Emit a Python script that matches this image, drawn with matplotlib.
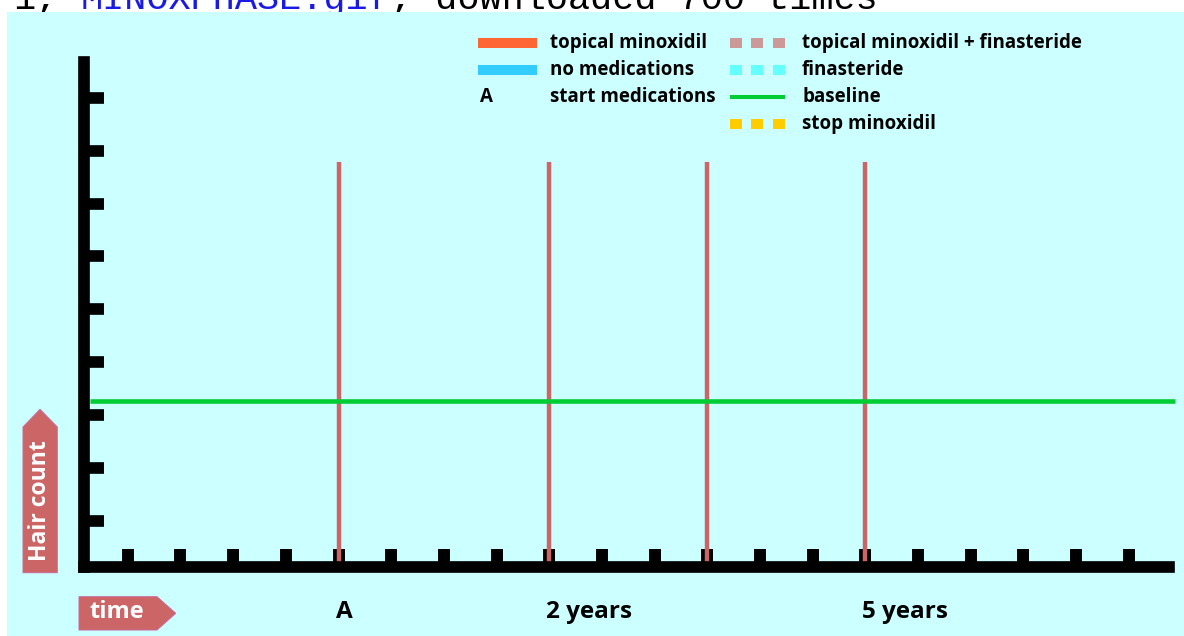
import matplotlib

matplotlib.use("Agg")
import matplotlib.pyplot as plt  # noqa: E402
from matplotlib.patches import Rectangle, Polygon  # noqa: E402
from matplotlib.transforms import Affine2D, Bbox, blended_transform_factory, offset_copy  # noqa: E402

W, H, DPI = 1184, 636, 100

BG = "#CCFFFF"
ARROW = "#CC6666"
EVENT_RED = "#CC6666"
GREEN = "#00CC33"
FONT = "Open Sans"

# chart data
tick_x = list(range(1, 21))
tick_y = list(range(1, 10))
event_x = [5, 9, 12, 15]
event_top = 7.78
baseline_y = 3.27
time_labels = ["A", "2 years", "5 years"]
time_label_x = [5, 9, 15]

# legend
legend_left = ["topical minoxidil", "no medications", "start medications"]
legend_left_kind = ["bar", "bar", "A"]
legend_left_color = ["#FF6633", "#33CCFF", "black"]
legend_right = ["topical minoxidil + finasteride", "finasteride", "baseline", "stop minoxidil"]
legend_right_kind = ["squares", "squares", "line", "squares"]
legend_right_color = ["#CC9999", "#66FFFF", GREEN, "#FFCC00"]
legend_rows = [43, 70, 97, 123.5]

caption = ["1, ", "MINOXPHASE.gif", ", downloaded 700 times"]
caption_color = ["black", "#1A1AE6", "black"]


def to_x(p):
    return (p - 75.1) / 52.68


def to_y(p):
    return (573.7 - p) / 52.875


fig = plt.figure(figsize=(W / DPI, H / DPI), dpi=DPI)
fig.patch.set_facecolor("white")
pix = Affine2D().scale(1 / W, -1 / H).translate(0, 1) + fig.transFigure

fig.add_artist(Rectangle((7.3, 11.7), W, H, transform=pix, facecolor=BG,
                         edgecolor="none", zorder=-1))

# cropped caption line at the very top
clip = Bbox.from_extents(0, H - 11.7, W, H)
cx = 14
for txt, col in zip(caption, caption_color):
    t = fig.text(cx, 9.3, txt, transform=pix, color=col, family="Liberation Mono",
                 fontsize=26.6, va="baseline", ha="left")
    t.set_clip_box(clip)
    cx += len(txt) * 22.2

# main axes
ax = fig.add_axes([84 / W, 1 - 567 / H, (1169 - 84) / W, (567 - 62.5) / H])
ax.set_xlim(to_x(84), to_x(1169))
ax.set_ylim(to_y(567), to_y(62.5))
ax.patch.set_visible(False)
for side in ["top", "right"]:
    ax.spines[side].set_visible(False)
for side in ["left", "bottom"]:
    ax.spines[side].set_linewidth(8.4)
    ax.spines[side].set_capstyle("projecting")
    ax.spines[side].set_color("black")
ax.set_xticks(tick_x)
ax.set_yticks(tick_y)
ax.tick_params(axis="x", direction="in", length=13, width=8.6, color="black",
               labelbottom=False)
ax.tick_params(axis="y", direction="in", length=14.6, width=8.4, color="black",
               labelleft=False)

ax.vlines(event_x, to_y(567), event_top, color=EVENT_RED, linewidth=3.2)
ax.hlines(baseline_y, to_x(90), to_x(1175), color=GREEN, linewidth=3.3, clip_on=False)

lab_tr = offset_copy(blended_transform_factory(ax.transData, fig.transFigure),
                     fig=fig, x=-3, y=0, units="dots")
for lab, x in zip(time_labels, time_label_x):
    fig.text(x, 1 - 612 / H, lab, transform=lab_tr, ha="left", va="center",
             fontsize=17.5, fontweight="bold", family=FONT, color="black")

# axis arrows
fig.add_artist(Polygon([(23, 572.7), (57.3, 572.7), (57.3, 427), (40, 409.3), (23, 427)],
                       closed=True, transform=pix, facecolor=ARROW,
                       edgecolor="#CC6699", linewidth=0.7))
fig.text(40, 501, "Hair count", transform=pix, rotation=90, ha="center", va="center",
         color="white", fontsize=16.5, fontweight="bold", family=FONT)
fig.add_artist(Polygon([(79, 596.7), (157, 596.7), (175.7, 613.3), (157, 630), (79, 630)],
                       closed=True, transform=pix, facecolor=ARROW,
                       edgecolor="#CC6699", linewidth=0.7))
fig.text(116.5, 612, "time", transform=pix, ha="center", va="center",
         color="white", fontsize=17, fontweight="bold", family=FONT)


# legend
def legend_key(kind, color, x0, x1, y):
    if kind == "bar":
        fig.add_artist(Rectangle((x0, y - 5), x1 - x0, 10, transform=pix,
                                 facecolor=color, edgecolor="none"))
    elif kind == "squares":
        for sx in [x0, x0 + 21, x0 + 43]:
            fig.add_artist(Rectangle((sx, y - 5), 12, 10, transform=pix,
                                     facecolor=color, edgecolor="none"))
    elif kind == "line":
        fig.add_artist(Rectangle((x0, y - 2), x1 - x0, 4, transform=pix,
                                 facecolor=color, edgecolor="none"))
    else:
        fig.text(x0 + 2, y, kind, transform=pix, ha="left", va="center",
                 fontsize=13.5, fontweight="bold", family=FONT, color=color)


for lab, kind, col, y in zip(legend_left, legend_left_kind, legend_left_color, legend_rows):
    legend_key(kind, col, 478, 537, y)
    fig.text(550, y, lab, transform=pix, ha="left", va="center",
             fontsize=13.5, fontweight="bold", family=FONT, color="black")

for lab, kind, col, y in zip(legend_right, legend_right_kind, legend_right_color, legend_rows):
    legend_key(kind, col, 730, 785, y)
    fig.text(802, y, lab, transform=pix, ha="left", va="center",
             fontsize=13.5, fontweight="bold", family=FONT, color="black")

fig.savefig("out.png", dpi=DPI)
